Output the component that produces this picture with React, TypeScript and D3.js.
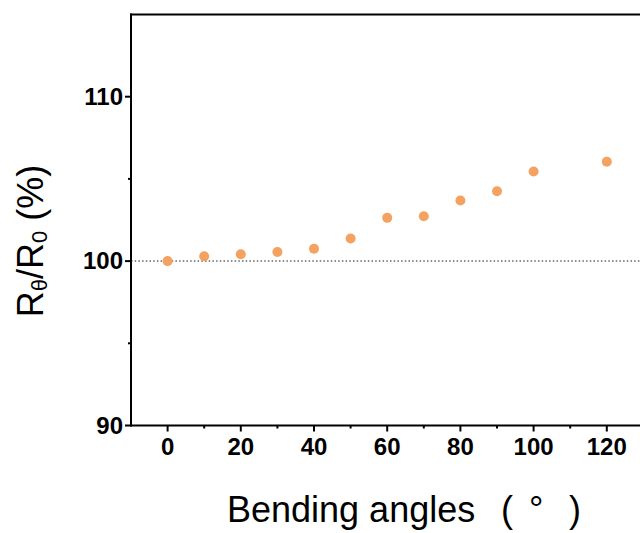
import React from "react";
import * as d3 from "d3";

const angles = [0, 10, 20, 30, 40, 50, 60, 70, 80, 90, 100, 120];
const ratios = [100.0, 100.29, 100.42, 100.55, 100.75, 101.38, 102.63, 102.73, 103.69, 104.25, 105.45, 106.04];
const xMajorTicks = [0, 20, 40, 60, 80, 100, 120];
const xMinorTicks = [10, 30, 50, 70, 90, 110, 130];
const yMajorTicks = [90, 100, 110];
const yMinorTicks = [95, 105];

export default function App() {
  const W = 640, H = 533;
  const left = 131, top = 14.5, bottom = 425.5;
  const x = d3.scaleLinear().domain([-10, 130]).range([left, left + 140 * 3.66]);
  const y = d3.scaleLinear().domain([90, 115]).range([bottom, top]);
  const font = "'Liberation Sans', Arial, sans-serif";
  return (
    <svg width={W} height={H} style={{ position: "absolute", left: 0, top: 0 }}>
      <rect width={W} height={H} fill="#fff" />
      {/* reference line */}
      <line x1={left} x2={W} y1={y(100)} y2={y(100)} stroke="#666" strokeWidth={1.5} strokeDasharray="1.5,2.2" />
      {/* axes */}
      <line x1={left} x2={left} y1={top - 1} y2={bottom + 1} stroke="#000" strokeWidth={2} />
      <line x1={left - 1} x2={W} y1={bottom} y2={bottom} stroke="#000" strokeWidth={2} />
      <line x1={left - 1} x2={W} y1={top} y2={top} stroke="#000" strokeWidth={2} />
      {xMajorTicks.map((t) => (
        <g key={"xm" + t}>
          <line x1={x(t)} x2={x(t)} y1={bottom} y2={bottom + 6} stroke="#000" strokeWidth={2} />
          <text x={x(t)} y={bottom + 29} textAnchor="middle" fontFamily={font} fontWeight="bold" fontSize={24} fill="#000">{t}</text>
        </g>
      ))}
      {xMinorTicks.map((t) => (
        <line key={"xn" + t} x1={x(t)} x2={x(t)} y1={bottom} y2={bottom + 3} stroke="#000" strokeWidth={2} />
      ))}
      {yMajorTicks.map((t) => (
        <g key={"ym" + t}>
          <line x1={left - 6} x2={left} y1={y(t)} y2={y(t)} stroke="#000" strokeWidth={2} />
          <text x={left - 8} y={y(t) + 8} textAnchor="end" fontFamily={font} fontWeight="bold" fontSize={24} fill="#000">{t}</text>
        </g>
      ))}
      {yMinorTicks.map((t) => (
        <line key={"yn" + t} x1={left - 3} x2={left} y1={y(t)} y2={y(t)} stroke="#000" strokeWidth={2} />
      ))}
      {/* points */}
      {angles.map((a, i) => (
        <circle key={"p" + a} cx={x(a)} cy={y(ratios[i])} r={5} fill="#f4a261" />
      ))}
      {/* y label */}
      <text transform={`translate(43,241) rotate(-90)`} textAnchor="middle" fontFamily={font} fontSize={36} fill="#000">
        R<tspan fontSize={22} dy={4}>θ</tspan><tspan dy={-4}>/R</tspan><tspan fontSize={22} dy={4}>0</tspan><tspan dy={-4}> (%)</tspan>
      </text>
      {/* x label */}
      <text x={227} y={522} fontFamily={font} fontSize={36} fill="#000">
        Bending angles<tspan x={501}>(</tspan><tspan x={529}>°</tspan><tspan x={569}>)</tspan>
      </text>
    </svg>
  );
}
